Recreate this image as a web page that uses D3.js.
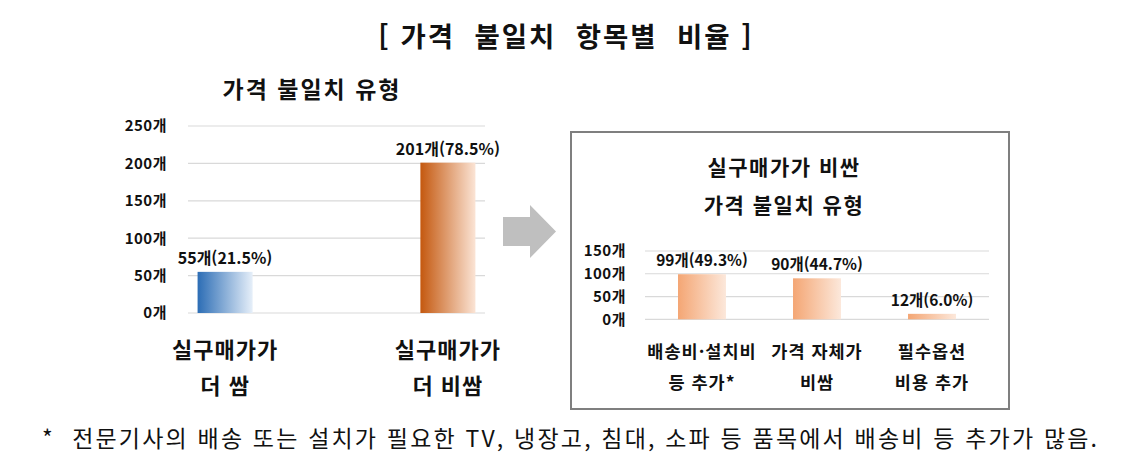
<!DOCTYPE html>
<html lang="ko">
<head>
<meta charset="UTF-8">
<title>가격 불일치 항목별 비율</title>
<script src="https://d3js.org/d3.v7.min.js"></script>
<style>
  body { margin: 0; background: #fff; }
  text { font-family: "Noto Sans CJK KR", "Noto Sans", sans-serif; fill: #111; }
</style>
</head>
<body>
<svg width="1148" height="469"></svg>
<script>
// 데이터
var leftCategories = [["실구매가가", "더 쌈"], ["실구매가가", "더 비쌈"]];
var leftValues = [55, 201];
var leftShares = ["21.5%", "78.5%"];
var leftTicks = [0, 50, 100, 150, 200, 250];

var rightCategories = [["배송비·설치비", "등 추가*"], ["가격 자체가", "비쌈"], ["필수옵션", "비용 추가"]];
var rightValues = [99, 90, 12];
var rightShares = ["49.3%", "44.7%", "6.0%"];
var rightTicks = [0, 50, 100, 150];

var svg = d3.select("svg");
var defs = svg.append("defs");

function grad(id, c1, c2) {
    var g = defs.append("linearGradient").attr("id", id)
        .attr("x1", "0").attr("x2", "1").attr("y1", "0").attr("y2", "0");
    g.append("stop").attr("offset", "0").attr("stop-color", c1);
    g.append("stop").attr("offset", "1").attr("stop-color", c2);
}
grad("gBlue", "#2c6db5", "#e6eff9");
grad("gOrange", "#c4580f", "#fbe4d5");
grad("gLight", "#f4a674", "#fce8db");

// 큰 제목
svg.append("text")
    .attr("x", 566).attr("y", 47)
    .attr("text-anchor", "middle")
    .attr("font-size", 27.5).attr("font-weight", 700)
    .attr("letter-spacing", 2)
    .attr("xml:space", "preserve")
    .text("[ 가격  불일치  항목별  비율 ]");

// 차트 그리기 함수
function drawChart(opt) {
    var x = d3.scaleBand()
        .domain(d3.range(opt.values.length))
        .range(opt.xr)
        .paddingInner(opt.pi)
        .paddingOuter(opt.po);
    var y = d3.scaleLinear()
        .domain([0, d3.max(opt.ticks)])
        .range(opt.yr);

    var g = svg.append("g");

    // 격자
    g.selectAll(".grid").data(opt.ticks).enter().append("line")
        .attr("x1", opt.xr[0]).attr("x2", opt.xr[1])
        .attr("y1", function (d) { return y(d); })
        .attr("y2", function (d) { return y(d); })
        .attr("stroke", "#d9d9d9").attr("stroke-width", 1.2);

    // 축
    var axis = d3.axisLeft(y)
        .tickValues(opt.ticks)
        .tickSize(0)
        .tickPadding(0)
        .tickFormat(function (d) { return d + "개"; });
    var ax = g.append("g")
        .attr("transform", "translate(" + opt.tickX + ",0)")
        .call(axis);
    ax.select(".domain").remove();
    ax.selectAll("text")
        .attr("font-size", 15).attr("font-weight", 700)
        .attr("font-family", "\"Noto Sans CJK KR\", sans-serif")
        .attr("letter-spacing", 0.5)
        .attr("fill", "#222");

    // 막대
    g.selectAll(".bar").data(opt.values).enter().append("rect")
        .attr("x", function (d, i) { return x(i); })
        .attr("width", x.bandwidth())
        .attr("y", function (d) { return y(d); })
        .attr("height", function (d) { return y(0) - y(d); })
        .attr("fill", function (d, i) { return "url(#" + opt.fills[i] + ")"; });

    // 값 라벨
    g.selectAll(".val").data(opt.values).enter().append("text")
        .attr("x", function (d, i) { return x(i) + x.bandwidth() / 2; })
        .attr("y", function (d) { return y(d) - 8; })
        .attr("text-anchor", "middle")
        .attr("font-size", opt.valSize).attr("font-weight", 700)
        .attr("fill", "#222")
        .text(function (d, i) { return d + "개(" + opt.shares[i] + ")"; });

    // 범주 라벨
    var cat = g.selectAll(".cat").data(opt.cats).enter().append("text")
        .attr("text-anchor", "middle")
        .attr("font-size", opt.catSize).attr("font-weight", 700)
        .attr("letter-spacing", 1)
        .attr("xml:space", "preserve");
    cat.selectAll("tspan").data(function (d, i) {
            return d.map(function (s) { return {s: s, i: i}; });
        }).enter().append("tspan")
        .attr("x", function (d) { return x(d.i) + x.bandwidth() / 2; })
        .attr("y", function (d, j) { return opt.catY[j]; })
        .text(function (d) { return d.s; });
}

// 왼쪽 차트 제목
svg.append("text")
    .attr("x", 312).attr("y", 98)
    .attr("text-anchor", "middle")
    .attr("font-size", 23).attr("font-weight", 700)
    .attr("letter-spacing", 2)
    .text("가격 불일치 유형");

drawChart({
    values: leftValues, shares: leftShares, ticks: leftTicks, cats: leftCategories,
    xr: [188, 485], pi: 0.753, po: 0.043, yr: [313, 126],
    tickX: 167, fills: ["gBlue", "gOrange"],
    valSize: 16, catSize: 22, catY: [358, 394]
});

// 화살표
svg.append("path")
    .attr("d", "M503,217 L530,217 L530,205 L556,231.5 L530,258 L530,246 L503,246 Z")
    .attr("fill", "#bfbfbf");

// 오른쪽 박스
svg.append("rect")
    .attr("x", 571).attr("y", 132)
    .attr("width", 438).attr("height", 277)
    .attr("fill", "none").attr("stroke", "#7f7f7f").attr("stroke-width", 2);

svg.append("text")
    .attr("x", 784).attr("y", 175)
    .attr("text-anchor", "middle")
    .attr("font-size", 21).attr("font-weight", 700)
    .attr("letter-spacing", 1.5)
    .text("실구매가가 비싼");
svg.append("text")
    .attr("x", 784).attr("y", 213)
    .attr("text-anchor", "middle")
    .attr("font-size", 21).attr("font-weight", 700)
    .attr("letter-spacing", 1.5)
    .text("가격 불일치 유형");

drawChart({
    values: rightValues, shares: rightShares, ticks: rightTicks, cats: rightCategories,
    xr: [645, 989], pi: 0.583, po: 0.287, yr: [319.3, 251],
    tickX: 626, fills: ["gLight", "gLight", "gLight"],
    valSize: 15.5, catSize: 17.5, catY: [358, 389]
});

// 각주
svg.append("text")
    .attr("x", 42).attr("y", 447)
    .attr("font-size", 23).attr("font-weight", 400)
    .attr("textLength", 1055).attr("lengthAdjust", "spacing")
    .attr("xml:space", "preserve")
    .text("*  전문기사의 배송 또는 설치가 필요한 TV, 냉장고, 침대, 소파 등 품목에서 배송비 등 추가가 많음.");
</script>
</body>
</html>
